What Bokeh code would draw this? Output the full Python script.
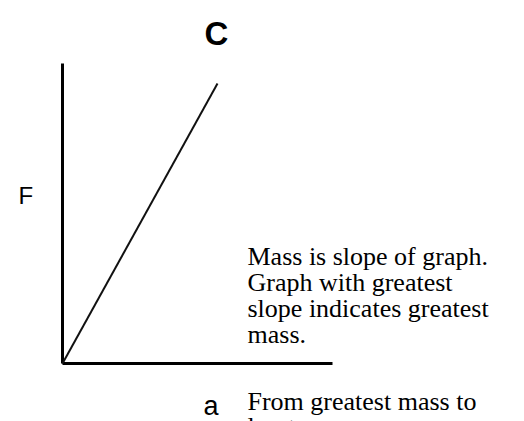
from bokeh.plotting import figure
from bokeh.models import Range1d
from bokeh.core.properties import value
from bokeh.embed import file_html
from bokeh.resources import INLINE

# Force F against acceleration a (units: 10 px per unit on screen)
a_vals = [0.0, 15.5]
F_vals = [0.0, 28.0]

# extent of the drawn axes
a_axis_end = 27.0
F_axis_end = 30.0

title_text = "C"
x_label = "a"
y_label = "F"
note_lines = [
    "Mass is slope of graph.",
    "Graph with greatest",
    "slope indicates greatest",
    "mass.",
]
answer_lines = ["From greatest mass to", "least mass"]

W, H = 524, 421
ox, oy = 62, 363  # pixel position of the origin
x_range = Range1d(-ox / 10, (W - ox) / 10)
y_range = Range1d(-(H - oy) / 10, oy / 10)

p = figure(width=W, height=H, x_range=x_range, y_range=y_range,
           output_backend="svg", toolbar_location=None, min_border=0)
p.axis.visible = False
p.grid.visible = False
p.outline_line_color = None
p.background_fill_color = "white"
p.border_fill_color = "white"


def px(xp):
    return (xp - ox) / 10


def py(yp):
    return (oy - yp) / 10


# axes
p.line([0, 0], [0, F_axis_end], line_color="black", line_width=3)
p.line([0, a_axis_end], [0, 0], line_color="black", line_width=3)

# the F–a line
p.line(a_vals, F_vals, line_color="#111111", line_width=2)

sans = value("Liberation Sans")
serif = value("Liberation Serif")

p.text([px(216)], [py(33)], text=[title_text], text_font=sans,
       text_font_size="33px", text_font_style="bold",
       text_align="center", text_baseline="alphabetic", text_color="black")
p.text([px(18)], [py(195)], text=[y_label], text_font=sans,
       text_font_size="24px", text_align="left",
       text_baseline="alphabetic", text_color="black")
p.text([px(203)], [py(405)], text=[x_label], text_font=sans,
       text_font_size="27px", text_align="left",
       text_baseline="alphabetic", text_color="black")

for i, line in enumerate(note_lines):
    p.text([px(247)], [py(256 + 26 * i)], text=[line], text_font=serif,
           text_font_size="26px", text_align="left",
           text_baseline="alphabetic", text_color="black")

for i, line in enumerate(answer_lines):
    p.text([px(247)], [py(401 + 25 * i)], text=[line], text_font=serif,
           text_font_size="26px", text_align="left",
           text_baseline="alphabetic", text_color="black")

open("out.html", "w").write(file_html(p, INLINE))
